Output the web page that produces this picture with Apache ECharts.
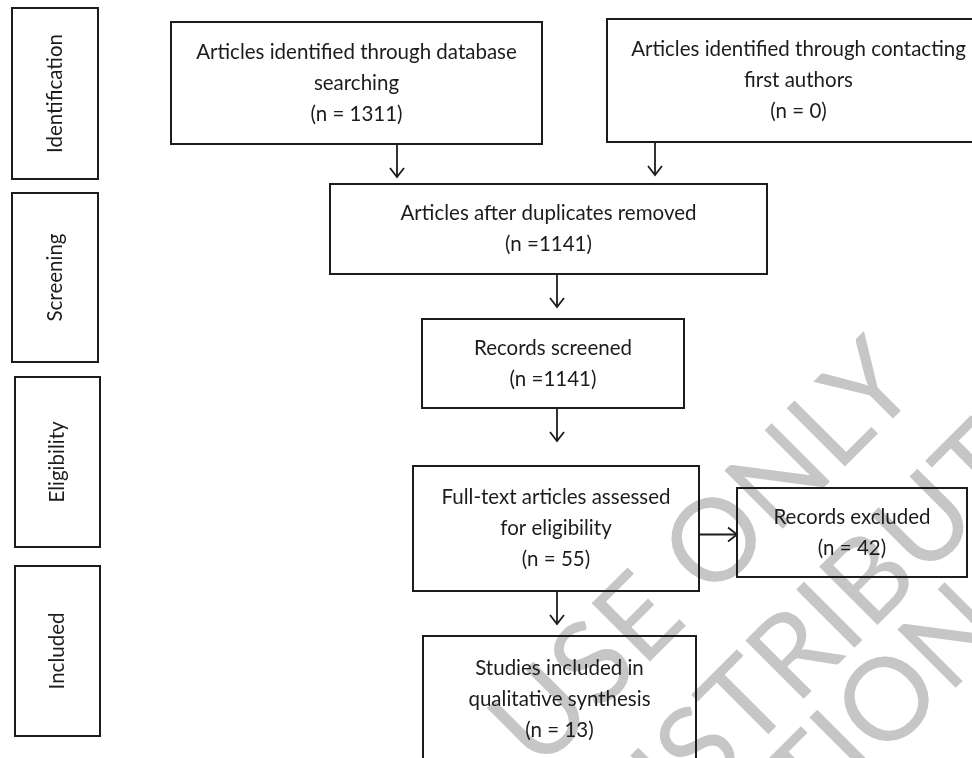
<!DOCTYPE html>
<html>
<head>
<meta charset="utf-8">
<title>PRISMA flow diagram</title>
<script src="https://cdn.jsdelivr.net/npm/echarts@6/dist/echarts.min.js"></script>
<style>
  html, body { margin: 0; padding: 0; background: #fff; }
  #chart { width: 972px; height: 758px; }
</style>
</head>
<body>
<div id="chart"></div>
<script>
  // phase labels down the left side
  const stages = ['Identification', 'Screening', 'Eligibility', 'Included'];

  // flow boxes, top to bottom
  const boxTitles = [
    'Articles identified through database\nsearching',
    'Articles identified through contacting\nfirst authors',
    'Articles after duplicates removed',
    'Records screened',
    'Full-text articles assessed\nfor eligibility',
    'Records excluded',
    'Studies included in\nqualitative synthesis'
  ];
  const boxCounts = ['(n = 1311)', '(n = 0)', '(n =1141)', '(n =1141)', '(n = 55)', '(n = 42)', '(n = 13)'];

  // arrows: from box -> to box
  const flows = [[0, 2], [1, 2], [2, 3], [3, 4], [4, 5], [4, 6]];

  // watermark lines (tiled)
  const stampLines = ['FOR PERSONAL USE ONLY', 'NOT FOR DISTRIBUTION', 'NOT FOR DISTRIBUTION'];

  // ---- layout (pixels of the 972 x 758 frame) ----
  const stageRects = [[12, 8, 98, 179], [12, 193, 98, 362], [15, 377, 100, 547], [15, 566, 100, 736]];
  const boxRects = [
    [171, 22, 542, 144],
    [607, 19, 990, 142],
    [330, 184, 767, 274],
    [422, 319, 684, 408],
    [413, 466, 699, 591],
    [737, 488, 967, 577],
    [423, 636, 696, 762]
  ];
  // x of each vertical arrow (null = horizontal, drawn at mid height of the target)
  const flowX = [397, 655, 557, 557, null, 557];
  const arrowLen = 32;
  const stampAnchors = [[896, 363], [1154, 296], [984, 607]];

  const FONT = 'Lato, "Open Sans", sans-serif';
  const INK = '#1c1c1c';

  // size text so the widest line matches the reference width (~320px)
  const ctx = document.createElement('canvas').getContext('2d');
  ctx.font = '22px ' + FONT;
  const fs = Math.round(22 * 320 / ctx.measureText('Articles identified through database').width * 10) / 10;

  const boxData = boxRects.map((r, i) => r.concat([i]));
  const stageData = stageRects.map((r, i) => r.concat([i]));
  const flowData = flows.map((f, i) => {
    const s = boxRects[f[0]];
    if (flowX[i] === null) {
      const y = (boxRects[f[1]][1] + boxRects[f[1]][3]) / 2 + 2;
      return [s[2], y, boxRects[f[1]][0], y];
    }
    return [flowX[i], s[3] + 1, flowX[i], s[3] + 1 + arrowLen];
  });

  const chart = echarts.init(document.getElementById('chart'));

  chart.setOption({
    backgroundColor: '#fff',
    animation: false,
    grid: { left: 0, right: 0, top: 0, bottom: 0 },
    xAxis: { type: 'value', min: 0, max: 972, show: false },
    yAxis: { type: 'value', min: 0, max: 758, inverse: true, show: false },
    graphic: stampLines.map((t, i) => ({
      type: 'text',
      z: 0,
      x: stampAnchors[i][0],
      y: stampAnchors[i][1],
      rotation: Math.PI / 4,
      style: {
        text: t,
        align: 'right',
        verticalAlign: 'middle',
        font: '115px ' + FONT,
        fill: '#c6c6c6'
      }
    })),
    series: [
      {
        type: 'custom',
        name: 'stages',
        z: 5,
        data: stageData,
        renderItem: function (params, api) {
          const a = api.coord([api.value(0), api.value(1)]);
          const b = api.coord([api.value(2), api.value(3)]);
          const i = api.value(4);
          return {
            type: 'group',
            children: [
              {
                type: 'rect',
                shape: { x: a[0], y: a[1], width: b[0] - a[0], height: b[1] - a[1] },
                style: { fill: '#fff', stroke: INK, lineWidth: 2 }
              },
              {
                type: 'text',
                x: (a[0] + b[0]) / 2,
                y: (a[1] + b[1]) / 2,
                rotation: Math.PI / 2,
                style: {
                  text: stages[i],
                  align: 'center',
                  verticalAlign: 'middle',
                  font: fs + 'px ' + FONT,
                  fill: INK
                }
              }
            ]
          };
        }
      },
      {
        type: 'custom',
        name: 'boxes',
        z: 5,
        data: boxData,
        renderItem: function (params, api) {
          const a = api.coord([api.value(0), api.value(1)]);
          const b = api.coord([api.value(2), api.value(3)]);
          const i = api.value(4);
          return {
            type: 'group',
            children: [
              {
                type: 'rect',
                shape: { x: a[0], y: a[1], width: b[0] - a[0], height: b[1] - a[1] },
                style: { fill: 'none', stroke: INK, lineWidth: 2 }
              },
              {
                type: 'text',
                x: (a[0] + b[0]) / 2,
                y: (a[1] + b[1]) / 2,
                style: {
                  text: boxTitles[i] + '\n' + boxCounts[i],
                  align: 'center',
                  verticalAlign: 'middle',
                  lineHeight: 31,
                  font: fs + 'px ' + FONT,
                  fill: INK
                }
              }
            ]
          };
        }
      },
      {
        type: 'custom',
        name: 'flows',
        z: 5,
        data: flowData,
        renderItem: function (params, api) {
          const a = api.coord([api.value(0), api.value(1)]);
          const b = api.coord([api.value(2), api.value(3)]);
          const horiz = a[1] === b[1];
          const head = horiz
            ? [[b[0] - 9, b[1] - 7], [b[0], b[1]], [b[0] - 9, b[1] + 7]]
            : [[b[0] - 7, b[1] - 9], [b[0], b[1]], [b[0] + 7, b[1] - 9]];
          const line = { stroke: INK, lineWidth: 1.8, fill: 'none' };
          return {
            type: 'group',
            children: [
              { type: 'line', shape: { x1: a[0], y1: a[1], x2: b[0], y2: b[1] }, style: line },
              { type: 'polyline', shape: { points: head }, style: line }
            ]
          };
        }
      }
    ]
  });
</script>
</body>
</html>
